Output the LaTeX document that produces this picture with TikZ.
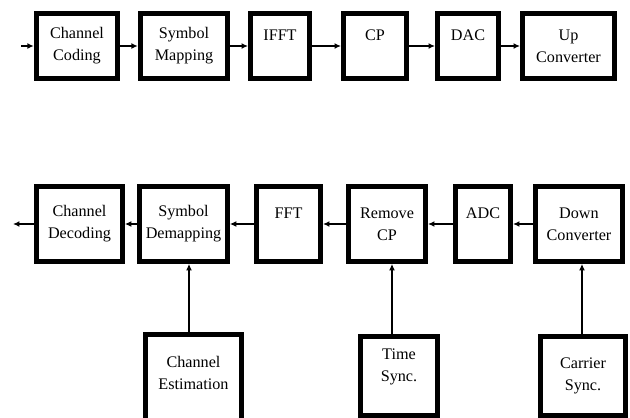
\documentclass[tikz,border=0pt]{standalone}
\usepackage{fontspec}
\setmainfont{Liberation Serif}
\usetikzlibrary{arrows.meta, positioning}

\begin{document}
\begin{tikzpicture}[
  x=0.03cm, y=-0.03cm,
  blk/.style={rectangle, draw=black, line width=4pt, fill=white,
              minimum height=#1, align=center, inner sep=0pt,
              font=\fontsize{13.8}{19}\selectfont},
  blk/.default=1.95cm,
  arr/.style={-{Latex[length=5.5pt,width=5pt]}, line width=1.2pt}
]
\useasboundingbox (0,0) rectangle (630,418);

% === Transmitter chain ===
\node[blk, minimum width=2.45cm] (cc)   at ( 77.0, 46) {Channel\\Coding};
\node[blk, minimum width=2.63cm] (sm)   at (184.0, 46) {Symbol\\Mapping};
\node[blk, minimum width=1.78cm] (ifft) at (280.0, 46) {IFFT\\~};
\node[blk, minimum width=1.90cm] (cp)   at (375.0, 46) {CP\\~};
\node[blk, minimum width=1.84cm] (dac)  at (468.0, 46) {DAC\\~};
\node[blk, minimum width=2.77cm] (uc)   at (568.5, 46) {Up\\Converter};

\coordinate (txin) at (21, 46);
\draw[arr] (txin) -- (cc);
\draw[arr] (cc) -- (sm);
\draw[arr] (sm) -- (ifft);
\draw[arr] (ifft) -- (cp);
\draw[arr] (cp) -- (dac);
\draw[arr] (dac) -- (uc);

% === Receiver chain (right to left) ===
\node[blk=2.25cm, minimum width=2.58cm] (cd)  at ( 79.5, 224) {Channel\\Decoding};
\node[blk=2.25cm, minimum width=2.64cm] (sd)  at (183.5, 224) {Symbol\\Demapping};
\node[blk=2.25cm, minimum width=1.93cm] (fft) at (288.5, 224) {FFT\\~};
\node[blk=2.25cm, minimum width=2.32cm] (rcp) at (387.0, 224) {Remove\\CP};
\node[blk=2.25cm, minimum width=1.66cm] (adc) at (483.0, 224) {ADC\\~};
\node[blk=2.25cm, minimum width=2.61cm] (dc)  at (579.0, 224) {Down\\Converter};

\coordinate (rxout) at (13, 224);
\draw[arr] (dc) -- (adc);
\draw[arr] (adc) -- (rcp);
\draw[arr] (rcp) -- (fft);
\draw[arr] (fft) -- (sd);
\draw[arr] (sd) -- (cd);
\draw[arr] (cd) -- (rxout);

% === Estimation / synchronisation ===
\node[blk=2.95cm, minimum width=2.88cm] (ce) at (193.5, 384) {Channel\\Estimation\\~};
\node[blk=2.35cm, minimum width=2.32cm] (ts) at (399.0, 376) {Time\\Sync.\\~};
\node[blk=2.35cm, minimum width=2.56cm] (cs) at (583.0, 376) {Carrier\\Sync.};

\draw[arr] (ce.north -| 189,0) -- (sd.south -| 189,0);
\draw[arr] (ts.north -| 392,0) -- (rcp.south -| 392,0);
\draw[arr] (cs.north -| 582,0) -- (dc.south -| 582,0);

\end{tikzpicture}
\end{document}
